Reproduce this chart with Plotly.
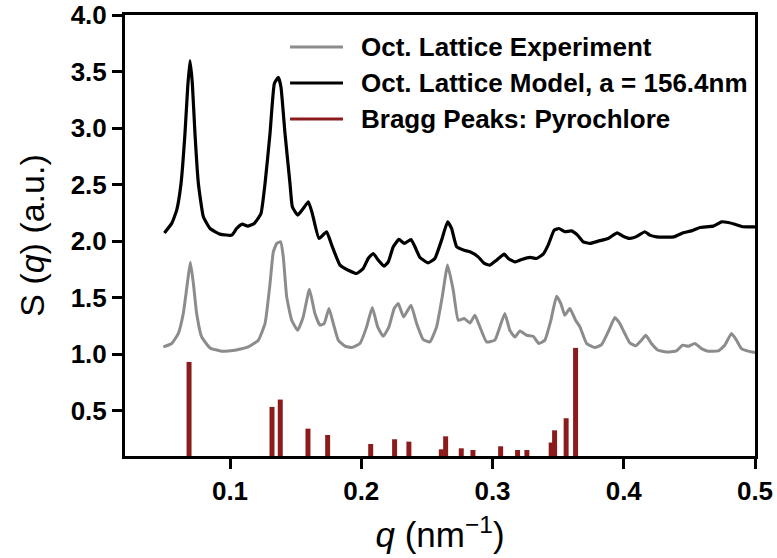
import plotly.graph_objects as go

# Model curve: octahedral lattice, a = 156.4 nm
model_q = [0.0500, 0.0556, 0.0594, 0.0627, 0.0657, 0.0678, 0.0695, 0.0713, 0.0733, 0.0759,
           0.0797, 0.0848, 0.0924, 0.1013, 0.1051, 0.1094, 0.1135, 0.1185, 0.1236, 0.1267,
           0.1305, 0.1338, 0.1368, 0.1388, 0.1419, 0.1457, 0.1475, 0.1516, 0.1558, 0.1597,
           0.1627, 0.1678, 0.1736, 0.1775, 0.1838, 0.1901, 0.1965, 0.2015, 0.2053, 0.2091,
           0.2130, 0.2173, 0.2206, 0.2244, 0.2287, 0.2328, 0.2379, 0.2409, 0.2447, 0.2510,
           0.2561, 0.2612, 0.2658, 0.2688, 0.2727, 0.2784, 0.2828, 0.2891, 0.2937, 0.2980,
           0.3031, 0.3089, 0.3120, 0.3171, 0.3222, 0.3285, 0.3336, 0.3386, 0.3424, 0.3470,
           0.3506, 0.3551, 0.3602, 0.3648, 0.3691, 0.3742, 0.3805, 0.3881, 0.3950, 0.3995,
           0.4046, 0.4092, 0.4161, 0.4199, 0.4250, 0.4382, 0.4453, 0.4516, 0.4580, 0.4681,
           0.4745, 0.4795, 0.4846, 0.4909, 0.5000]
model_s = [2.073, 2.157, 2.274, 2.510, 2.953, 3.366, 3.596, 3.395, 2.953, 2.510,
           2.215, 2.112, 2.062, 2.053, 2.112, 2.150, 2.133, 2.157, 2.245, 2.510,
           2.953, 3.395, 3.448, 3.366, 2.953, 2.510, 2.304, 2.230, 2.289, 2.348,
           2.245, 2.024, 2.083, 1.965, 1.788, 1.743, 1.714, 1.758, 1.847, 1.891,
           1.832, 1.779, 1.817, 1.950, 2.015, 1.980, 2.015, 1.950, 1.856, 1.808,
           1.847, 2.009, 2.171, 2.112, 1.950, 1.920, 1.906, 1.861, 1.803, 1.788,
           1.832, 1.885, 1.847, 1.817, 1.838, 1.856, 1.847, 1.885, 1.965, 2.097,
           2.112, 2.083, 2.091, 2.053, 1.994, 1.980, 2.000, 2.024, 2.074, 2.044,
           2.024, 2.038, 2.083, 2.053, 2.038, 2.038, 2.074, 2.091, 2.121, 2.133,
           2.171, 2.165, 2.150, 2.127, 2.127]

# Measured structure factor
exp_q = [0.0492, 0.0556, 0.0606, 0.0644, 0.0675, 0.0698, 0.0721, 0.0746, 0.0784, 0.0848,
         0.0937, 0.1038, 0.1139, 0.1216, 0.1267, 0.1305, 0.1330, 0.1356, 0.1386, 0.1406,
         0.1432, 0.1470, 0.1516, 0.1558, 0.1605, 0.1647, 0.1685, 0.1718, 0.1754, 0.1787,
         0.1825, 0.1876, 0.1927, 0.1990, 0.2041, 0.2084, 0.2125, 0.2168, 0.2211, 0.2251,
         0.2282, 0.2323, 0.2379, 0.2422, 0.2472, 0.2523, 0.2574, 0.2617, 0.2658, 0.2701,
         0.2739, 0.2784, 0.2828, 0.2866, 0.2904, 0.2955, 0.3018, 0.3056, 0.3094, 0.3132,
         0.3171, 0.3209, 0.3260, 0.3310, 0.3353, 0.3399, 0.3445, 0.3488, 0.3521, 0.3551,
         0.3589, 0.3633, 0.3666, 0.3717, 0.3780, 0.3831, 0.3887, 0.3932, 0.3970, 0.4008,
         0.4046, 0.4092, 0.4135, 0.4168, 0.4211, 0.4262, 0.4326, 0.4402, 0.4448, 0.4491,
         0.4542, 0.4592, 0.4643, 0.4719, 0.4770, 0.4821, 0.4859, 0.4897, 0.4948, 0.5000]
exp_s = [1.065, 1.095, 1.183, 1.360, 1.626, 1.814, 1.626, 1.360, 1.153, 1.056,
         1.027, 1.035, 1.065, 1.124, 1.272, 1.626, 1.905, 1.980, 1.994, 1.861,
         1.507, 1.301, 1.212, 1.330, 1.575, 1.360, 1.257, 1.272, 1.404, 1.272,
         1.124, 1.071, 1.059, 1.095, 1.242, 1.413, 1.242, 1.159, 1.242, 1.404,
         1.448, 1.330, 1.434, 1.272, 1.130, 1.109, 1.242, 1.507, 1.790, 1.566,
         1.301, 1.316, 1.277, 1.345, 1.242, 1.109, 1.124, 1.242, 1.360, 1.212,
         1.153, 1.206, 1.168, 1.159, 1.095, 1.124, 1.301, 1.513, 1.448, 1.345,
         1.404, 1.301, 1.242, 1.095, 1.059, 1.085, 1.212, 1.325, 1.272, 1.183,
         1.100, 1.074, 1.124, 1.168, 1.095, 1.035, 1.020, 1.029, 1.080, 1.071,
         1.095, 1.050, 1.027, 1.029, 1.080, 1.183, 1.124, 1.050, 1.027, 1.015]

# Pyrochlore Bragg reflections
bragg_q = [0.0688, 0.1320, 0.1383, 0.1594, 0.1744, 0.2072, 0.2254, 0.2363, 0.2610, 0.2643,
           0.2762, 0.2851, 0.3062, 0.3191, 0.3262, 0.3447, 0.3473, 0.3561, 0.3633]
bragg_h = [0.932, 0.534, 0.599, 0.342, 0.286, 0.206, 0.248, 0.227, 0.159, 0.274,
           0.168, 0.153, 0.186, 0.153, 0.153, 0.219, 0.327, 0.434, 1.056]

legend_labels = ["Oct. Lattice Experiment", "Oct. Lattice Model, a = 156.4nm",
                 "Bragg Peaks: Pyrochlore"]

x_ticks = [0.1, 0.2, 0.3, 0.4, 0.5]
y_ticks = [0.5, 1.0, 1.5, 2.0, 2.5, 3.0, 3.5, 4.0]

FONT = "Liberation Sans, Arial, Helvetica, sans-serif"
GRAY = "#8c8c8c"
BLACK = "#000000"
RED = "#8c1c1c"
colors = [GRAY, BLACK, RED]

fig = go.Figure()
fig.add_trace(go.Bar(x=bragg_q, y=bragg_h, width=0.0038, marker=dict(color=RED, line=dict(width=0)),
                     name=legend_labels[2], showlegend=False))
fig.add_trace(go.Scatter(x=exp_q, y=exp_s, mode="lines",
                         line=dict(color=GRAY, width=3, shape="spline", smoothing=0.4),
                         name=legend_labels[0], showlegend=False))
fig.add_trace(go.Scatter(x=model_q, y=model_s, mode="lines",
                         line=dict(color=BLACK, width=3.2, shape="spline", smoothing=0.4),
                         name=legend_labels[1], showlegend=False))

# Legend drawn as line samples plus text
legend_y = [0.9274, 0.8458, 0.7642]
for label, col, yy in zip(legend_labels, colors, legend_y):
    fig.add_shape(type="line", xref="paper", yref="paper", x0=0.262, x1=0.346, y0=yy, y1=yy,
                  line=dict(color=col, width=3))
    fig.add_annotation(xref="paper", yref="paper", x=0.371, y=yy, text=label, showarrow=False,
                       xanchor="left", yanchor="middle",
                       font=dict(family=FONT, size=26, color="black", weight="bold"))

axis_common = dict(showline=True, linewidth=3, linecolor="black", mirror=True,
                   ticks="outside", ticklen=10, tickwidth=3, tickcolor="black",
                   showgrid=False, zeroline=False, automargin=False,
                   tickfont=dict(family=FONT, size=26, color="black", weight="bold"))

fig.update_xaxes(range=[0.02, 0.5], tickvals=x_ticks, ticktext=[f"{v:.1f}" for v in x_ticks],
                 title=dict(text="<i>q</i> (nm<sup>−1</sup>)", standoff=18,
                            font=dict(family=FONT, size=35, color="black")),
                 **axis_common)
fig.update_yaxes(range=[0.1, 4.0], tickvals=y_ticks, ticktext=[f"{v:.1f}" for v in y_ticks],
                 title=dict(text="S (<i>q</i>) (a.u.)", standoff=16,
                            font=dict(family=FONT, size=34, color="black")),
                 **axis_common)

fig.update_layout(width=777, height=558, margin=dict(l=125, r=22, t=15, b=102),
                  plot_bgcolor="white", paper_bgcolor="white", barmode="overlay",
                  font=dict(family=FONT, color="black"))

fig.write_html("out.html")
